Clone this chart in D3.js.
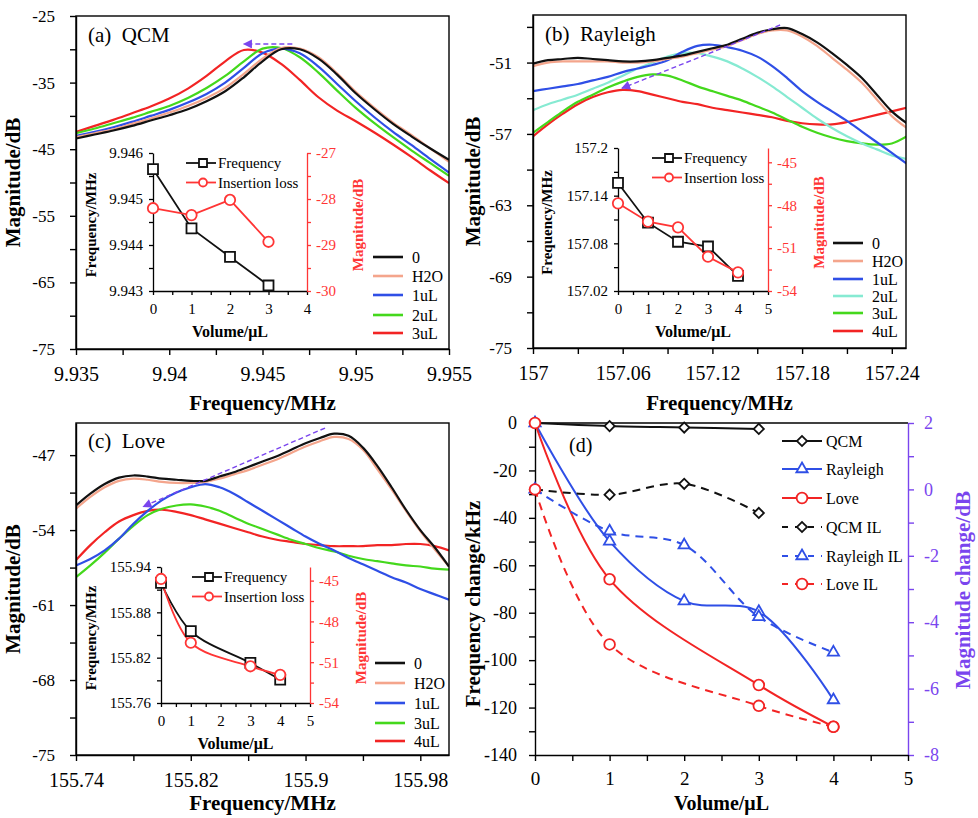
<!DOCTYPE html>
<html>
<head>
<meta charset="utf-8">
<script src="https://cdn.jsdelivr.net/npm/d3@7"></script>
<style>
  body { margin: 0; background: #fff; }
  svg { display: block; }
  svg text { font-family: "Liberation Serif", "DejaVu Serif", serif !important; }
</style>
</head>
<body>
<svg id="chart" width="978" height="818"></svg>
<script>
// ---------- data ----------
// (a) QCM spectra
const aFreq = [9.935, 9.936, 9.937, 9.938, 9.939, 9.940, 9.941, 9.942, 9.943, 9.944, 9.945,
               9.946, 9.947, 9.948, 9.949, 9.950, 9.951, 9.952, 9.953, 9.954, 9.955];
const aMag0   = [-43.4, -42.8, -42.2, -41.5, -40.7, -39.9, -39.0, -37.8, -36.3, -34.2, -31.8, -30.0, -30.0, -31.4, -33.8, -36.6, -39.0, -41.2, -43.1, -44.9, -46.6];
const aMagH2O = [-43.2, -42.6, -42.0, -41.2, -40.4, -39.5, -38.5, -37.3, -35.8, -33.7, -31.4, -29.8, -29.9, -31.2, -33.6, -36.4, -38.8, -41.0, -42.9, -44.9, -46.9];
const aMag1   = [-43.0, -42.4, -41.7, -40.9, -40.0, -39.1, -38.0, -36.7, -35.0, -32.8, -30.6, -29.9, -30.6, -32.6, -35.2, -37.8, -40.2, -42.4, -44.4, -46.5, -48.5];
const aMag2   = [-42.6, -41.9, -41.1, -40.3, -39.4, -38.5, -37.3, -35.8, -34.0, -31.8, -29.9, -29.8, -31.2, -33.5, -36.2, -38.8, -41.1, -43.2, -45.2, -47.1, -49.0];
const aMag3   = [-42.4, -41.5, -40.6, -39.6, -38.6, -37.4, -35.9, -34.0, -31.8, -30.1, -30.5, -32.2, -34.6, -37.2, -39.2, -40.8, -42.5, -44.3, -46.2, -48.2, -50.1];
const aNames = ["0", "H2O", "1uL", "2uL", "3uL"];

// (b) Rayleigh spectra
const bFreq = [157.00, 157.01, 157.02, 157.03, 157.04, 157.05, 157.06, 157.07, 157.08, 157.09, 157.10, 157.11, 157.12,
               157.13, 157.14, 157.15, 157.16, 157.17, 157.18, 157.19, 157.20, 157.21, 157.22, 157.23, 157.24, 157.25];
const bMag0   = [-51.1, -50.8, -50.7, -50.6, -50.7, -50.8, -50.9, -50.9, -50.8, -50.6, -50.4, -50.1, -49.8, -49.5, -49.0, -48.5, -48.2, -48.1, -48.6, -49.3, -50.2, -51.2, -52.3, -53.7, -55.1, -56.1];
const bMagH2O = [-51.3, -51.0, -50.9, -50.9, -50.9, -50.9, -51.0, -51.0, -50.9, -50.7, -50.5, -50.2, -49.9, -49.6, -49.1, -48.6, -48.3, -48.3, -48.8, -49.6, -50.6, -51.6, -52.7, -54.1, -55.5, -56.5];
const bMag1   = [-53.4, -53.2, -53.0, -52.8, -52.5, -52.2, -51.8, -51.5, -51.2, -50.8, -50.1, -49.6, -49.5, -49.7, -50.0, -50.5, -51.3, -52.3, -53.4, -54.3, -55.1, -55.9, -56.8, -57.7, -58.6, -59.5];
const bMag2   = [-55.0, -54.5, -54.1, -53.7, -53.2, -52.7, -52.1, -51.5, -51.0, -50.5, -50.2, -50.2, -50.5, -50.9, -51.5, -52.2, -53.0, -53.9, -54.8, -55.7, -56.5, -57.2, -57.8, -58.3, -58.8, -59.1];
const bMag3   = [-56.9, -56.0, -55.1, -54.3, -53.7, -53.1, -52.6, -52.2, -52.0, -52.1, -52.5, -53.0, -53.4, -53.8, -54.2, -54.7, -55.2, -55.8, -56.4, -56.9, -57.3, -57.6, -57.8, -57.9, -57.8, -57.2];
const bMag4   = [-57.2, -56.2, -55.3, -54.5, -53.9, -53.5, -53.3, -53.4, -53.7, -54.0, -54.3, -54.5, -54.8, -55.0, -55.2, -55.4, -55.6, -55.9, -56.1, -56.2, -56.2, -56.0, -55.7, -55.4, -55.1, -54.8];
const bNames = ["0", "H2O", "1uL", "2uL", "3uL", "4uL"];

// (c) Love spectra
const cFreq = [155.74, 155.75, 155.76, 155.77, 155.78, 155.79, 155.80, 155.81, 155.82, 155.83, 155.84, 155.85, 155.86, 155.87,
               155.88, 155.89, 155.90, 155.91, 155.92, 155.93, 155.94, 155.95, 155.96, 155.97, 155.98, 155.99, 156.00];
const cMag0   = [-51.7, -50.6, -49.7, -49.1, -48.9, -49.0, -49.2, -49.3, -49.4, -49.4, -49.0, -48.6, -48.1, -47.6, -47.1, -46.5, -45.9, -45.4, -45.0, -45.2, -46.3, -48.0, -50.0, -52.1, -54.0, -55.6, -57.4];
const cMagH2O = [-52.0, -50.9, -50.0, -49.4, -49.2, -49.3, -49.5, -49.6, -49.6, -49.5, -49.2, -48.8, -48.4, -47.9, -47.4, -46.8, -46.2, -45.7, -45.3, -45.5, -46.5, -48.3, -50.2, -52.2, -54.1, -55.8, -57.4];
const cMag1   = [-57.3, -56.7, -55.9, -54.8, -53.4, -52.2, -51.2, -50.5, -50.0, -49.7, -50.0, -50.6, -51.4, -52.2, -53.0, -53.8, -54.6, -55.3, -55.9, -56.6, -57.2, -57.8, -58.4, -58.9, -59.5, -60.0, -60.5];
const cMag3   = [-58.4, -57.3, -56.1, -54.8, -53.6, -52.6, -52.0, -51.7, -51.6, -51.8, -52.2, -52.8, -53.4, -53.9, -54.4, -54.9, -55.3, -55.7, -56.0, -56.4, -56.7, -56.9, -57.1, -57.3, -57.4, -57.6, -57.7];
const cMag4   = [-56.8, -55.4, -54.2, -53.2, -52.6, -52.2, -52.1, -52.3, -52.6, -53.0, -53.4, -53.8, -54.2, -54.6, -54.9, -55.1, -55.3, -55.4, -55.5, -55.5, -55.5, -55.4, -55.4, -55.3, -55.3, -55.5, -55.9];
const cNames = ["0", "H2O", "1uL", "3uL", "4uL"];

// insets: resonance frequency and insertion loss vs volume
const insetAVol = [0, 1, 2, 3];
const insetAFreq = [9.94565, 9.94436, 9.94374, 9.94312];
const insetALoss = [-28.2, -28.35, -28.02, -28.93];
const insetBVol = [0, 1, 2, 3, 4];
const insetBFreq = [157.156, 157.106, 157.082, 157.076, 157.039];
const insetBLoss = [-47.87, -49.15, -49.55, -51.6, -52.7];
const insetCVol = [0, 1, 3, 4];
const insetCFreq = [155.919, 155.855, 155.813, 155.791];
const insetCLoss = [-44.88, -49.57, -51.3, -51.93];

// (d) changes vs volume
const dVol = [0, 1, 2, 3, 4];
const qcmVol = [0, 1, 2, 3];
const loveVol = [0, 1, 3, 4];
const qcmShift = [0, -1.3, -1.9, -2.5];
const rayleighShift = [0, -49.9, -75.1, -79.6, -116.8];
const loveShift = [0, -65.9, -110.5, -128.1];
const qcmIL = [0, -0.16, 0.17, -0.71];
const rayleighIL = [0, -1.26, -1.68, -3.84, -4.91];
const loveIL = [0, -4.67, -6.52, -7.15];
const dNames = ["QCM", "Rayleigh", "Love", "QCM IL", "Rayleigh IL", "Love IL"];

// ---------- drawing ----------
const SERIF = "\"Liberation Serif\", \"DejaVu Serif\", serif";
const BLACK = "#111", SALMON = "#f4a58c", BLUE = "#2f4fe6", CYAN = "#86ead2",
      GREEN = "#44d81c", RED = "#f22424", IRED = "#ff3535", PURPLE = "#7a45ee";
const fmt = d => String(+d.toFixed(4));

const svg = d3.select("#chart");
svg.append("rect").attr("width", 978).attr("height", 818).attr("fill", "#fff");

const defs = svg.append("defs");
defs.append("marker")
    .attr("id", "arrowhead")
    .attr("viewBox", "0 0 10 10")
    .attr("refX", 9).attr("refY", 5)
    .attr("markerUnits", "userSpaceOnUse")
    .attr("markerWidth", 10).attr("markerHeight", 9)
    .attr("orient", "auto")
    .append("path").attr("d", "M0,0L10,5L0,10Z").attr("fill", PURPLE);

function axis(parent, scale, side, majors, minors, o) {
    const make = { left: d3.axisLeft, right: d3.axisRight, bottom: d3.axisBottom }[side];
    const g = parent.append("g").attr("transform", o.at);
    g.call(make(scale).tickValues(majors).tickFormat(o.fmt || fmt)
        .tickSize(o.tick).tickSizeOuter(0).tickPadding(o.pad));
    if (minors.length) {
        g.append("g").call(make(scale).tickValues(minors).tickFormat("").tickSize(o.tick))
            .select(".domain").remove();
    }
    g.selectAll("path, line").attr("stroke", o.color).attr("stroke-width", o.sw || 1.4);
    g.selectAll("text").attr("fill", o.color).style("font-size", o.fs + "px").style("font-family", SERIF);
    return g;
}

function title(x, y, txt, o) {
    const t = svg.append("text")
        .style("font-family", SERIF).attr("font-weight", "bold")
        .style("font-size", o.fs + "px").attr("fill", o.color || "#000")
        .attr("text-anchor", "middle")
        .text(txt);
    if (o.rotate) t.attr("transform", `translate(${x},${y}) rotate(-90)`).attr("dy", "0.35em");
    else t.attr("x", x).attr("y", y);
    return t;
}

function label(parent, x, y, txt, fs) {
    return parent.append("text").attr("x", x).attr("y", y).attr("dy", "0.35em")
        .style("font-family", SERIF).style("font-size", fs + "px").text(txt);
}

let clipId = 0;
function spectrum(p) {
    const x = d3.scaleLinear().domain(p.xDomain).range([p.left, p.right]);
    const y = d3.scaleLinear().domain(p.yDomain).range([p.bottom, p.top]);
    const id = "clip" + (clipId++);
    defs.append("clipPath").attr("id", id).append("rect")
        .attr("x", p.left).attr("y", p.top).attr("width", p.right - p.left).attr("height", p.bottom - p.top);

    const line = d3.line().x((d, i) => x(p.freq[i])).y(d => y(d)).curve(d3.curveCatmullRom);
    const curves = svg.append("g").attr("clip-path", `url(#${id})`);
    // draw last series first so the reference trace sits on top
    p.series.slice().reverse().forEach((s, k) => {
        const i = p.series.length - 1 - k;
        curves.append("path").attr("d", line(s))
            .attr("fill", "none").attr("stroke", p.colors[i]).attr("stroke-width", 2.2);
    });

    // arrow showing peak shift
    svg.append("line")
        .attr("x1", x(p.arrow[0])).attr("y1", y(p.arrow[1]))
        .attr("x2", x(p.arrow[2])).attr("y2", y(p.arrow[3]))
        .attr("stroke", PURPLE).attr("stroke-width", 1.4).attr("stroke-dasharray", "5,3")
        .attr("marker-end", "url(#arrowhead)");

    svg.append("rect").attr("x", p.left).attr("y", p.top)
        .attr("width", p.right - p.left).attr("height", p.bottom - p.top)
        .attr("fill", "none").attr("stroke", "#000").attr("stroke-width", 1.4);
    axis(svg, y, "left", p.yMajor, p.yMinor, { at: `translate(${p.left},0)`, tick: 6, pad: 15, fs: 17, color: "#000" });
    axis(svg, x, "bottom", p.xMajor, p.xMinor, { at: `translate(0,${p.bottom})`, tick: 6, pad: 12, fs: 20, color: "#000" });

    // legend
    p.names.forEach((n, i) => {
        const ly = p.legY[i];
        svg.append("line").attr("x1", p.legX).attr("x2", p.legX + 30).attr("y1", ly).attr("y2", ly)
            .attr("stroke", p.colors[i]).attr("stroke-width", 2.6);
        label(svg, p.legX + 39, ly, n, 16);
    });

    svg.append("text").attr("x", p.left + 12).attr("y", p.labelY)
        .style("font-family", SERIF).style("font-size", "21px")
        .attr("xml:space", "preserve").text(p.label);

    title(p.yTitleX, (p.top + p.bottom) / 2, "Magnitude/dB", { fs: 21, rotate: true });
    title((p.left + p.right) / 2, p.xTitleY, "Frequency/MHz", { fs: 21 });
}

function marker(g, type, cx, cy, color, size) {
    const sym = d3.symbol().type(type === "square" || type === "diamond" ? d3.symbolSquare
        : type === "triangle" ? d3.symbolTriangle : d3.symbolCircle).size(size);
    g.append("path").attr("d", sym())
        .attr("transform", `translate(${cx},${cy})` + (type === "diamond" ? " rotate(45)" : ""))
        .attr("fill", "#fff").attr("stroke", color).attr("stroke-width", 1.8);
}

function inset(p) {
    const x = d3.scaleLinear().domain([0, p.xMax]).range([p.left, p.right]);
    const yl = d3.scaleLinear().domain(p.fDomain).range([p.bottom, p.top]);
    const yr = d3.scaleLinear().domain(p.mDomain).range([p.bottom, p.top]);
    const g = svg.append("g");

    const xMaj = d3.range(0, p.xMax + 0.01, 1);
    const xMin = d3.range(0.5, p.xMax, 1);
    axis(g, x, "bottom", xMaj, xMin, { at: `translate(0,${p.bottom})`, tick: 4, pad: 8, fs: 15, color: "#000", sw: 1.3 });
    axis(g, yl, "left", p.fMajor, p.fMinor, { at: `translate(${p.left},0)`, tick: 4, pad: 6, fs: 15, color: "#000", sw: 1.3 });
    axis(g, yr, "right", p.mMajor, p.mMinor, { at: `translate(${p.right},0)`, tick: 4, pad: 5, fs: 15, color: IRED, sw: 1.3 });

    const curve = p.smooth ? d3.curveCatmullRom : d3.curveLinear;
    const fLine = d3.line().x((d, i) => x(p.vol[i])).y(d => yl(d)).curve(curve);
    const mLine = d3.line().x((d, i) => x(p.vol[i])).y(d => yr(d)).curve(curve);
    g.append("path").attr("d", fLine(p.freq)).attr("fill", "none").attr("stroke", BLACK).attr("stroke-width", 1.8);
    g.append("path").attr("d", mLine(p.loss)).attr("fill", "none").attr("stroke", IRED).attr("stroke-width", 1.8);
    p.freq.forEach((v, i) => marker(g, "square", x(p.vol[i]), yl(v), BLACK, 100));
    p.loss.forEach((v, i) => marker(g, "circle", x(p.vol[i]), yr(v), IRED, 85));

    // legend
    [["Frequency", BLACK, "square", 64], ["Insertion loss", IRED, "circle", 50]].forEach(([n, c, t, s], i) => {
        const ly = p.legY + i * 19.5;
        g.append("line").attr("x1", p.legX).attr("x2", p.legX + 30).attr("y1", ly).attr("y2", ly)
            .attr("stroke", c).attr("stroke-width", 1.8);
        marker(g, t, p.legX + 17, ly, c, s);
        label(g, p.legX + 32, ly, n, 15);
    });

    const cy = (p.top + p.bottom) / 2 + 3;
    title(p.left - p.fTitleOff, cy, "Frequency/MHz", { fs: 15, rotate: true });
    title(p.right + 51, cy, "Magnitude/dB", { fs: 15, rotate: true, color: IRED });
    title((p.left + p.right) / 2, p.bottom + 46, "Volume/\u03bcL", { fs: 16 });
}

// ---- panel (a)
spectrum({
    left: 76, right: 449, top: 16, bottom: 349,
    xDomain: [9.935, 9.955], yDomain: [-75, -25],
    xMajor: [9.935, 9.94, 9.945, 9.95, 9.955], xMinor: [9.9375, 9.9425, 9.9475, 9.9525],
    yMajor: [-25, -35, -45, -55, -65, -75], yMinor: [-30, -40, -50, -60, -70],
    freq: aFreq, series: [aMag0, aMagH2O, aMag1, aMag2, aMag3],
    colors: [BLACK, SALMON, BLUE, GREEN, RED], names: aNames,
    legX: 373, legY: [257, 276, 295, 315, 333],
    arrow: [9.9466, -29.2, 9.9440, -29.2],
    label: "(a)  QCM", labelY: 42, yTitleX: 13, xTitleY: 410
});
inset({
    left: 153, right: 307, top: 153, bottom: 291, xMax: 4, fTitleOff: 62,
    fDomain: [9.943, 9.946], fMajor: [9.943, 9.944, 9.945, 9.946], fMinor: [9.9435, 9.9445, 9.9455],
    mDomain: [-30, -27], mMajor: [-30, -29, -28, -27], mMinor: [-29.5, -28.5, -27.5],
    vol: insetAVol, freq: insetAFreq, loss: insetALoss,
    legX: 186, legY: 163
});

// ---- panel (b)
spectrum({
    left: 533, right: 906, top: 15, bottom: 348,
    xDomain: [157, 157.2495], yDomain: [-75, -47],
    xMajor: [157, 157.06, 157.12, 157.18, 157.24], xMinor: [157.03, 157.09, 157.15, 157.21],
    yMajor: [-51, -57, -63, -69, -75], yMinor: [-48, -54, -60, -66, -72],
    freq: bFreq, series: [bMag0, bMagH2O, bMag1, bMag2, bMag3, bMag4],
    colors: [BLACK, SALMON, BLUE, CYAN, GREEN, RED], names: bNames,
    legX: 833, legY: [243, 261, 279, 296, 313, 331],
    arrow: [157.1653, -47.84, 157.0595, -53.16],
    label: "(b)  Rayleigh", labelY: 41, yTitleX: 473, xTitleY: 410
});
inset({
    left: 618, right: 768, top: 148, bottom: 291, xMax: 5, fTitleOff: 71,
    fDomain: [157.02, 157.2], fMajor: [157.02, 157.08, 157.14, 157.2], fMinor: [157.05, 157.11, 157.17],
    mDomain: [-54, -44], mMajor: [-54, -51, -48, -45], mMinor: [-52.5, -49.5, -46.5],
    vol: insetBVol, freq: insetBFreq, loss: insetBLoss,
    legX: 652, legY: 158
});

// ---- panel (c)
spectrum({
    left: 76, right: 449, top: 423, bottom: 755,
    xDomain: [155.74, 156.0], yDomain: [-75, -44],
    xMajor: [155.74, 155.82, 155.9, 155.98], xMinor: [155.78, 155.86, 155.94],
    yMajor: [-47, -54, -61, -68, -75], yMinor: [-50.5, -57.5, -64.5, -71.5],
    freq: cFreq, series: [cMag0, cMagH2O, cMag1, cMag3, cMag4],
    colors: [BLACK, SALMON, BLUE, GREEN, RED], names: cNames,
    legX: 375, legY: [663, 683, 703, 723, 741],
    arrow: [155.9136, -44.47, 155.7869, -51.8],
    label: "(c)  Love", labelY: 448, yTitleX: 13, xTitleY: 810
});
inset({
    left: 161, right: 310, top: 567, bottom: 703, xMax: 5, smooth: true, fTitleOff: 70,
    fDomain: [155.76, 155.94], fMajor: [155.76, 155.82, 155.88, 155.94], fMinor: [155.79, 155.85, 155.91],
    mDomain: [-54, -44], mMajor: [-54, -51, -48, -45], mMinor: [-52.5, -49.5, -46.5],
    vol: insetCVol, freq: insetCFreq, loss: insetCLoss,
    legX: 192, legY: 577
});

// ---- panel (d)
(function () {
    const L = 535, R = 908, T = 423, B = 755;
    const x = d3.scaleLinear().domain([0, 5]).range([L, R]);
    const yl = d3.scaleLinear().domain([-140, 0]).range([B, T]);
    const yr = d3.scaleLinear().domain([-8, 2]).range([B, T]);

    svg.append("line").attr("x1", L).attr("x2", R).attr("y1", T).attr("y2", T)
        .attr("stroke", "#000").attr("stroke-width", 1.4);
    axis(svg, yl, "left", d3.range(0, -141, -20), d3.range(-10, -140, -20),
        { at: `translate(${L},0)`, tick: 6, pad: 12, fs: 18, color: "#000" });
    axis(svg, yr, "right", d3.range(2, -9, -2), d3.range(1, -8, -2),
        { at: `translate(${R},0)`, tick: 6, pad: 10, fs: 18, color: PURPLE });
    axis(svg, x, "bottom", d3.range(0, 6), d3.range(0.5, 5, 1),
        { at: `translate(0,${B})`, tick: 6, pad: 11, fs: 19, color: "#000" });

    const series = [
        { vol: qcmVol, v: qcmShift, s: yl, c: BLACK, m: "diamond", dash: null },
        { vol: dVol, v: rayleighShift, s: yl, c: BLUE, m: "triangle", dash: null },
        { vol: loveVol, v: loveShift, s: yl, c: RED, m: "circle", dash: null },
        { vol: qcmVol, v: qcmIL, s: yr, c: BLACK, m: "diamond", dash: "8,6" },
        { vol: dVol, v: rayleighIL, s: yr, c: BLUE, m: "triangle", dash: "8,6" },
        { vol: loveVol, v: loveIL, s: yr, c: RED, m: "circle", dash: "8,6" }
    ];
    const size = { diamond: 52, triangle: 55, circle: 90 };
    series.forEach(d => {
        const line = d3.line().x((v, i) => x(d.vol[i])).y(v => d.s(v)).curve(d3.curveCatmullRom);
        svg.append("path").attr("d", line(d.v)).attr("fill", "none")
            .attr("stroke", d.c).attr("stroke-width", 2).attr("stroke-dasharray", d.dash);
    });
    series.forEach(d => d.v.forEach((v, i) => marker(svg, d.m, x(d.vol[i]), d.s(v), d.c, size[d.m])));

    const legY = [441, 469, 498, 527, 556, 584];
    series.forEach((d, i) => {
        svg.append("line").attr("x1", 782).attr("x2", 822).attr("y1", legY[i]).attr("y2", legY[i])
            .attr("stroke", d.c).attr("stroke-width", 2).attr("stroke-dasharray", d.dash ? "6,7" : null);
        marker(svg, d.m, 802, legY[i], d.c, size[d.m]);
        label(svg, 826, legY[i], dNames[i], 16);
    });

    svg.append("text").attr("x", 569).attr("y", 452)
        .style("font-family", SERIF).style("font-size", "20px").text("(d)");
    title(473, 604, "Frequency change/kHz", { fs: 21, rotate: true });
    title(963, 590, "Magnitude change/dB", { fs: 21, rotate: true, color: PURPLE });
    title((L + R) / 2, 810, "Volume/\u03bcL", { fs: 20 });
})();
</script>
</body>
</html>
